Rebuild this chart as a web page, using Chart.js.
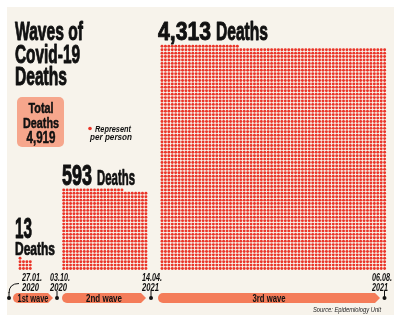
<!DOCTYPE html>
<html>
<head>
<meta charset="utf-8">
<script src="https://cdn.jsdelivr.net/npm/chart.js@4"></script>
<style>
  html, body { margin: 0; padding: 0; background: #fff; }
  canvas { display: block; }
</style>
</head>
<body>
<canvas id="chart" width="400" height="322"></canvas>
<script>
// data
const waves = ['1st wave', '2nd wave', '3rd wave']
const deaths = [13, 593, 4313]
const startDates = ['27.01.', '03.10.', '14.04.']
const startYears = ['2020', '2020', '2021']
const endDate = '06.08.'
const endYear = '2021'
const totalDeaths = 4919
const title = ['Waves of', 'Covid-19', 'Deaths']
const source = 'Source: Epidemiology Unit'

// layout of the dot blocks (one dot = one person)
const pitch = 3.45
const baseY = 269.5
const blockLeft = [17, 61, 160]
const blockCols = [4, 25, 66]

const RED = '#ea3529'
const CREAM = '#f7f3eb'
const PILL = '#f47c59'
const BOX = '#f6a68c'

function dotsFor(i){
  let pts = []
  for (let k = 0; k < deaths[i]; k++){
    let row = Math.floor(k / blockCols[i]),
        col = k % blockCols[i]
    pts.push({x: blockLeft[i] + pitch/2 + col*pitch, y: baseY - row*pitch})
  }
  return pts
}

// squeeze text into a target width, condensed poster look
function txt(ctx, s, x, y, o){
  ctx.save()
  ctx.font = (o.style || 'bold') + ' ' + o.size + 'px "Liberation Sans Narrow", "Liberation Sans", sans-serif'
  ctx.fillStyle = o.color || '#111'
  ctx.strokeStyle = o.color || '#111'
  ctx.textBaseline = 'alphabetic'
  ctx.textAlign = 'left'
  let mw = ctx.measureText(s).width
  let w = o.w || mw
  let left = o.align === 'center' ? x - w/2 : o.align === 'right' ? x - w : x
  ctx.translate(left, y)
  ctx.scale(w / mw, o.sy || 1)
  ctx.fillText(s, 0, 0)
  if (o.heavy){ // fake a heavier weight
    ctx.lineWidth = o.heavy
    ctx.lineJoin = 'round'
    ctx.strokeText(s, 0, 0)
  }
  ctx.restore()
}

function pill(ctx, x0, x1, yc, h){
  let r = h/2
  ctx.beginPath()
  ctx.moveTo(x0 + r, yc - r)
  ctx.lineTo(x1 - r, yc - r)
  ctx.lineTo(x1, yc)
  ctx.lineTo(x1 - r, yc + r)
  ctx.lineTo(x0 + r, yc + r)
  ctx.arc(x0 + r, yc, r, Math.PI/2, Math.PI*1.5)
  ctx.closePath()
  ctx.fillStyle = PILL
  ctx.fill()
}

function marker(ctx, x, y0, y1){
  ctx.save()
  ctx.strokeStyle = '#111'
  ctx.fillStyle = '#111'
  ctx.lineWidth = 1
  ctx.beginPath()
  ctx.moveTo(x, y0)
  ctx.lineTo(x, y1)
  ctx.stroke()
  ctx.beginPath()
  ctx.arc(x, y1, 2, 0, Math.PI*2)
  ctx.fill()
  ctx.restore()
}

const decor = {
  id: 'decor',
  beforeDraw(chart){
    const ctx = chart.ctx
    ctx.save()
    ctx.fillStyle = '#fff'
    ctx.fillRect(0, 0, 400, 322)
    ctx.fillStyle = CREAM
    ctx.fillRect(7, 7, 387, 308)
    ctx.restore()
  },
  afterDraw(chart){
    const ctx = chart.ctx
    // title
    txt(ctx, title[0], 15, 40, {size: 24, w: 68, sy: 1.06, heavy: 0.9})
    txt(ctx, title[1], 15, 62.5, {size: 24, w: 65, sy: 1.06, heavy: 0.9})
    txt(ctx, title[2], 15, 85, {size: 24, w: 52, sy: 1.06, heavy: 0.9})

    // total box
    ctx.save()
    ctx.fillStyle = BOX
    ctx.beginPath()
    ctx.roundRect(17, 97, 47, 50, 5)
    ctx.fill()
    ctx.restore()
    txt(ctx, 'Total', 41, 113, {size: 15, w: 25, align: 'center', heavy: 0.5})
    txt(ctx, 'Deaths', 41, 128, {size: 15, w: 36, align: 'center', heavy: 0.5})
    txt(ctx, totalDeaths.toLocaleString('en-US'), 41, 143, {size: 16, w: 29, align: 'center', heavy: 0.5})

    // legend
    ctx.save()
    ctx.fillStyle = RED
    ctx.beginPath()
    ctx.arc(90, 128.5, 1.8, 0, Math.PI*2)
    ctx.fill()
    ctx.restore()
    txt(ctx, 'Represent', 95, 131.5, {size: 9, w: 36, style: 'italic bold'})
    txt(ctx, 'per person', 90, 140, {size: 9, w: 42, style: 'italic bold'})

    // block labels
    txt(ctx, deaths[2].toLocaleString('en-US'), 158, 39.5, {size: 24, w: 53, sy: 1.06, heavy: 0.9})
    txt(ctx, 'Deaths', 216, 39.5, {size: 24, w: 52, sy: 1.06, heavy: 0.9})
    txt(ctx, String(deaths[1]), 62, 185, {size: 27, w: 30, sy: 1.06, heavy: 0.9})
    txt(ctx, 'Deaths', 97, 185, {size: 20, w: 38, sy: 1.06, heavy: 0.7})
    txt(ctx, String(deaths[0]), 15, 238, {size: 27, w: 17, sy: 1.06, heavy: 0.9})
    txt(ctx, 'Deaths', 15, 255, {size: 17, w: 40, sy: 1.06, heavy: 0.7})

    // dates
    const dx = [22, 50, 142]
    for (let i = 0; i < 3; i++){
      txt(ctx, startDates[i], dx[i], 281, {size: 10, w: 20, style: 'italic bold'})
      txt(ctx, startYears[i], dx[i], 290.5, {size: 10, w: 17, style: 'italic bold'})
    }
    txt(ctx, endDate, 372, 281, {size: 10, w: 20, style: 'italic bold'})
    txt(ctx, endYear, 372, 290.5, {size: 10, w: 16, style: 'italic bold'})

    // timeline markers
    ctx.save()
    ctx.strokeStyle = '#111'
    ctx.lineWidth = 1
    ctx.beginPath()
    ctx.moveTo(19, 283.5)
    ctx.quadraticCurveTo(9, 283.5, 9, 293)
    ctx.stroke()
    ctx.restore()
    marker(ctx, 9, 292, 298)
    marker(ctx, 57, 291, 298)
    marker(ctx, 151, 291, 298)
    marker(ctx, 384.5, 291, 298)

    // wave pills
    const px = [[13, 53], [62, 146], [158, 380]]
    for (let i = 0; i < 3; i++){
      pill(ctx, px[i][0], px[i][1], 298, 10)
      let mid = (px[i][0] + px[i][1]) / 2
      txt(ctx, waves[i], mid, 301.5, {size: 10, w: [31, 36, 33][i], align: 'center'})
    }

    txt(ctx, source, 381, 312, {size: 8, w: 68, style: 'italic', color: '#222', align: 'right'})
  }
}

new Chart(document.getElementById('chart'), {
  type: 'scatter',
  data: {
    datasets: waves.map((w, i) => ({
      label: w,
      data: dotsFor(i),
      backgroundColor: RED,
      borderWidth: 0,
      pointRadius: 1.45,
      pointHoverRadius: 1.45
    }))
  },
  options: {
    responsive: false,
    animation: false,
    layout: {padding: 0},
    scales: {
      x: {type: 'linear', min: 0, max: 400, display: false},
      y: {type: 'linear', min: 0, max: 322, reverse: true, display: false}
    },
    plugins: {
      legend: {display: false},
      tooltip: {enabled: false}
    }
  },
  plugins: [decor]
})
</script>
</body>
</html>
